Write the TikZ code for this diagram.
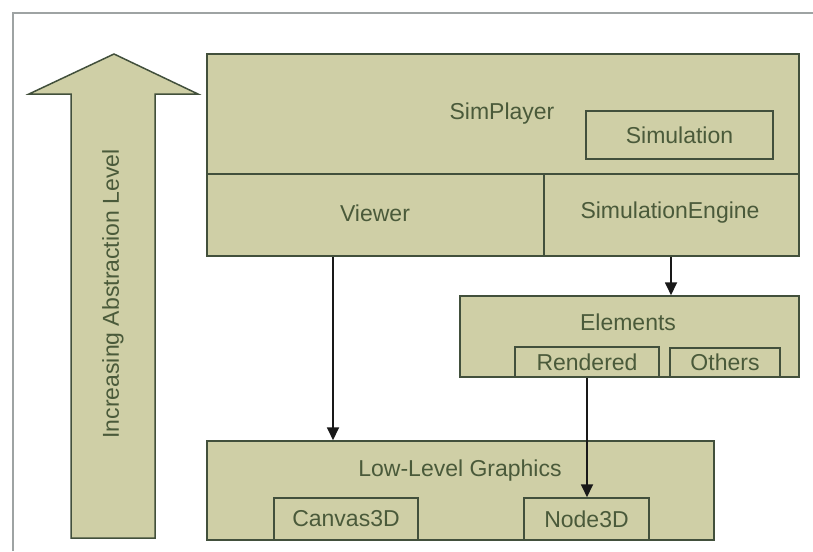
\documentclass[tikz,border=0pt]{standalone}
\usepackage{fontspec}
\setmainfont{Liberation Sans}
\usetikzlibrary{arrows.meta}
\definecolor{boxfill}{HTML}{CFCFA6}
\definecolor{boxline}{HTML}{42503C}
\definecolor{txtcol}{HTML}{4A5A3A}
\definecolor{framecol}{HTML}{9EA3A3}
\begin{document}
\begin{tikzpicture}[x=1pt,y=-1pt,
  box/.style={draw=boxline, fill=boxfill, line width=1.5pt, inner sep=0pt, text=txtcol, font=\fontsize{23}{26}\selectfont},
  lbl/.style={inner sep=0pt, text=txtcol, font=\fontsize{23}{26}\selectfont},
  divline/.style={draw=boxline, line width=1.5pt},
  conn/.style={draw=black!90, line width=1.8pt, -{Triangle[length=13pt,width=12pt]}},
  bigarrow/.style={draw=boxline, fill=boxfill, line width=1.5pt, line join=miter},
  framestyle/.style={draw=framecol, line width=2.2pt}
]
\useasboundingbox (0,0) rectangle (813,551);
% frame
\draw[framestyle] (13,551) -- (13,13) -- (813,13);
% big arrow
\draw[bigarrow] (114,54) -- (198,94) -- (155,94) -- (155,538) -- (71,538) -- (71,94) -- (29,94) -- cycle;
\node[lbl, rotate=90] (abstr) at (113,294) {Increasing Abstraction Level};
% SimPlayer
\node[box, minimum width=592pt, minimum height=202pt] (simplayer) at (503,155) {};
\coordinate (div) at (0,174);
\coordinate (vdiv) at (544,0);
\draw[divline] (simplayer.west |- div) -- (simplayer.east |- div);
\draw[divline] (vdiv |- div) -- (vdiv |- simplayer.south);
\node[lbl] (simplbl) at (502,114) {SimPlayer};
\node[box, minimum width=187pt, minimum height=48pt] (simulation) at (679.5,135) {Simulation};
\node[lbl] (viewer) at (375,213) {Viewer};
\node[lbl] (engine) at (670,213) {SimulationEngine};
% Elements
\node[box, minimum width=339pt, minimum height=81pt] (elements) at (629.5,336.5) {};
\node[lbl] (elemlbl) at (628,322) {Elements};
\node[box, minimum width=144pt, minimum height=30pt] (rendered) at (587,362) {Rendered};
\node[box, minimum width=110pt, minimum height=29pt] (others) at (725,362.5) {Others};
% Low-Level Graphics
\node[box, minimum width=507pt, minimum height=99pt] (lowlevel) at (460.5,490.5) {};
\node[lbl] (lowlbl) at (460,471) {Low-Level Graphics};
\node[box, minimum width=144pt, minimum height=42pt] (canvas) at (346,519) {Canvas3D};
\node[box, minimum width=125pt, minimum height=42pt] (node3d) at (586.5,519) {Node3D};
% connectors
\coordinate (a1) at (333,0);
\coordinate (a2) at (671,0);
\coordinate (a3) at (587,0);
\draw[conn] (simplayer.south -| a1) -- (lowlevel.north -| a1);
\draw[conn] (simplayer.south -| a2) -- (elements.north -| a2);
\draw[conn] (rendered.south -| a3) -- (node3d.north -| a3);
\end{tikzpicture}
\end{document}
